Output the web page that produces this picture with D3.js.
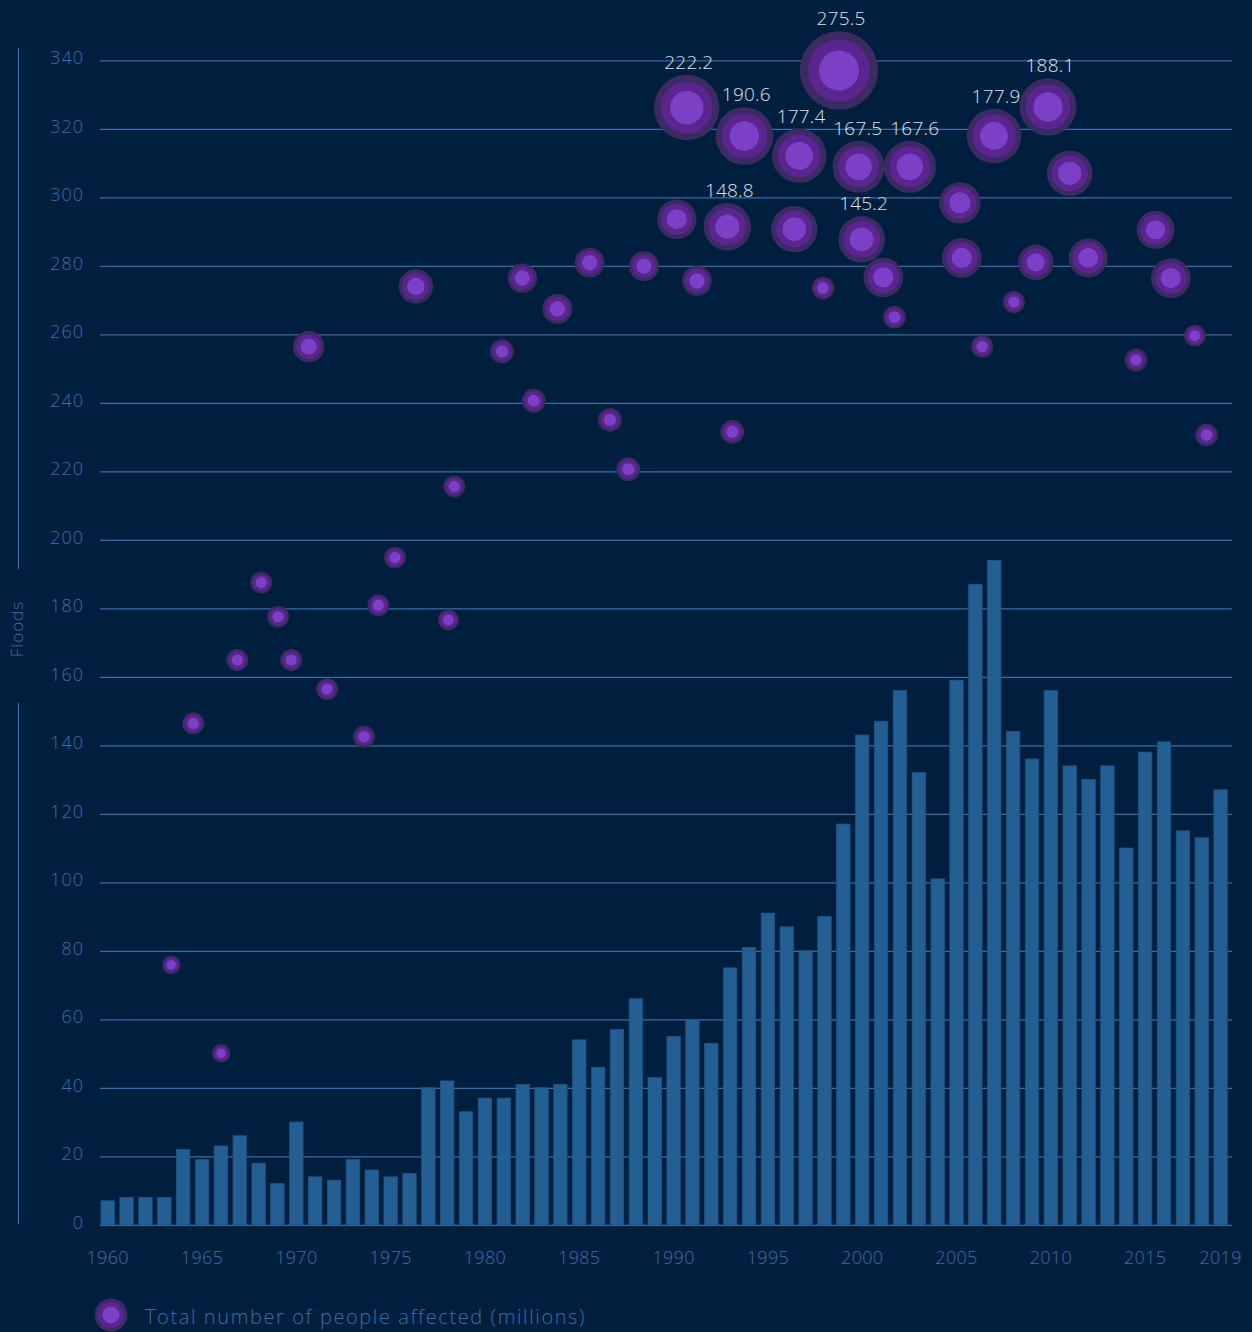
<!DOCTYPE html>
<html>
<head>
<meta charset="utf-8">
<script src="https://cdn.jsdelivr.net/npm/d3@7/dist/d3.min.js"></script>
<style>
  html, body { margin: 0; padding: 0; background: #001e3e; }
  svg { display: block; }
  text { font-family: "Open Sans", Lato, sans-serif; }
</style>
</head>
<body>
<svg id="chart" width="1252" height="1332"></svg>
<script>
// ---- data ----
const years = d3.range(1960, 2020);
const floods = [7, 8, 8, 8, 22, 19, 23, 26, 18, 12,
                30, 14, 13, 19, 16, 14, 15, 40, 42, 33,
                37, 37, 41, 40, 41, 54, 46, 57, 66, 43,
                55, 60, 53, 75, 81, 91, 87, 80, 90, 117,
                143, 147, 156, 132, 101, 159, 187, 194, 144, 136,
                156, 134, 130, 134, 110, 138, 141, 115, 113, 127];
const yTicks = d3.range(0, 341, 20);
const xTickLabels = [1960, 1965, 1970, 1975, 1980, 1985, 1990, 1995, 2000, 2005, 2010, 2015, 2019];

// bubbles: position along time axis, vertical level (floods axis units), people affected (millions)
const bubbleYear = [1963.37, 1964.54, 1966.01, 1966.87, 1968.14, 1969.03, 1969.73, 1970.66, 1971.63, 1973.59,
                    1974.35, 1975.23, 1976.34, 1978.06, 1978.37, 1980.90, 1981.98, 1982.58, 1983.84, 1985.55,
                    1986.63, 1987.60, 1988.43, 1990.17, 1990.70, 1991.24, 1992.85, 1993.11, 1993.75, 1996.40,
                    1996.66, 1997.92, 1998.77, 1999.81, 1999.97, 2001.12, 2001.71, 2002.53, 2005.18, 2005.28,
                    2006.36, 2006.99, 2008.04, 2009.20, 2009.85, 2011.00, 2011.98, 2014.51, 2015.55, 2016.36,
                    2017.64, 2018.25];
const bubbleLevel = [75.9, 146.4, 50.1, 164.9, 187.5, 177.5, 164.9, 256.4, 156.4, 142.5,
                     180.9, 194.8, 274.0, 176.6, 215.6, 255.0, 276.4, 240.6, 267.4, 280.9,
                     235.0, 220.6, 279.9, 293.6, 326.2, 275.6, 291.4, 231.5, 317.9, 290.7,
                     312.1, 273.5, 337.0, 308.9, 287.7, 276.6, 265.0, 308.9, 298.4, 282.3,
                     256.4, 317.9, 269.4, 281.0, 326.4, 307.0, 282.3, 252.5, 290.5, 276.4,
                     259.6, 230.6];
const bubbleValue = [30, 44, 30, 44, 44, 44, 44, 83, 44, 44,
                     44, 44, 95, 40, 44, 52, 75, 52, 77, 77,
                     52, 52, 77, 116, 222.2, 76, 148.8, 52, 190.6, 144,
                     177.4, 47, 275.5, 167.5, 145.2, 117, 47, 167.6, 124, 117,
                     45, 177.9, 45, 100, 188.1, 141, 114, 47, 110, 117,
                     43, 47];
const legendLabel = "Total number of people affected (millions)";
const axisTitle = "Floods";

// ---- drawing ----
const svg = d3.select("#chart");
svg.append("rect").attr("width", 1252).attr("height", 1332).attr("fill", "#001e3e");

const x = d3.scaleBand().domain(years).range([101, 1227.3]).paddingInner(0.29).paddingOuter(0);
const y = d3.scaleLinear().domain([0, 340]).range([1224.8, 60.3]);
const half = x.bandwidth() / 2;
const xb = d3.scaleLinear().domain([1960, 2019]).range([x(1960) + half, x(2019) + half]);
const r = d3.scaleLinear().domain([0, 275.5]).range([5.6, 39.2]);

const tickColor = "#3d6fa3";
const gridColor = "#386ea3";
const font = "'Open Sans', Lato, sans-serif";

// gridlines + y tick labels
const yAxis = d3.axisLeft(y).tickValues(yTicks).tickSize(-1132).tickPadding(16);
const gy = svg.append("g").attr("transform", "translate(100,0)").call(yAxis);
gy.select(".domain").remove();
gy.selectAll(".tick line").attr("stroke", gridColor).attr("stroke-width", 1.2);
gy.selectAll(".tick text").attr("fill", tickColor).attr("font-size", 18).attr("font-weight", 300)
  .attr("font-family", font).attr("letter-spacing", 1).attr("dy", "0.2em");

// left vertical line (broken around title)
svg.append("line").attr("x1", 18.5).attr("x2", 18.5).attr("y1", 48).attr("y2", 569)
  .attr("stroke", gridColor).attr("stroke-width", 1.2);
svg.append("line").attr("x1", 18.5).attr("x2", 18.5).attr("y1", 703).attr("y2", 1224)
  .attr("stroke", gridColor).attr("stroke-width", 1.2);
svg.append("text").attr("transform", "translate(23,629) rotate(-90)")
  .attr("text-anchor", "middle").attr("fill", tickColor).attr("font-size", 17).attr("font-weight", 300)
  .attr("letter-spacing", 1).text(axisTitle);

// bars
svg.append("g").selectAll("rect").data(years).join("rect")
  .attr("x", d => x(d)).attr("width", x.bandwidth())
  .attr("y", (d, i) => y(floods[i])).attr("height", (d, i) => y(0) - y(floods[i]))
  .attr("fill", "#235f92").attr("stroke", "#1f5687").attr("stroke-width", 0.8);

// x axis labels
const xAxis = d3.axisBottom(x).tickValues(xTickLabels).tickSize(0).tickPadding(26);
const gx = svg.append("g").attr("transform", `translate(0,${y(0)})`).call(xAxis);
gx.select(".domain").remove();
gx.selectAll(".tick text").attr("fill", tickColor).attr("font-size", 18).attr("font-weight", 300)
  .attr("font-family", font).attr("letter-spacing", 0.3);

// bubbles
const bubbles = bubbleYear.map((yr, i) => ({yr, lvl: bubbleLevel[i], v: bubbleValue[i]}));
function drawBubble(g, cx, cy, rad) {
  g.append("circle").attr("cx", cx).attr("cy", cy).attr("r", rad).attr("fill", "#3c2a63");
  g.append("circle").attr("cx", cx).attr("cy", cy).attr("r", rad * 0.79).attr("fill", "#5a258f");
  g.append("circle").attr("cx", cx).attr("cy", cy).attr("r", rad * 0.51).attr("fill", "#7c40c6");
}
const gb = svg.append("g");
bubbles.forEach(b => drawBubble(gb, xb(b.yr), y(b.lvl), r(b.v)));

// labels for the ten largest, nudged apart when two sit on the same row
const top10 = bubbles.slice().sort((a, b) => b.v - a.v).slice(0, 10)
  .map(d => ({...d, lx: xb(d.yr) + 2, ly: y(d.lvl) - r(d.v) - 6}))
  .sort((a, b) => a.lx - b.lx);
const minGap = 57;
for (let i = 0; i < top10.length; i++) {
  for (let j = i + 1; j < top10.length; j++) {
    const a = top10[i], b = top10[j];
    if (Math.abs(a.ly - b.ly) < 12 && b.lx - a.lx < minGap) {
      const push = (minGap - (b.lx - a.lx)) / 2;
      a.lx -= push; b.lx += push;
    }
  }
}
svg.append("g").selectAll("text").data(top10).join("text")
  .attr("x", d => d.lx).attr("y", d => d.ly)
  .attr("text-anchor", "middle").attr("fill", "#dde2ea").attr("font-size", 19).attr("font-weight", 300)
  .attr("letter-spacing", 0.2)
  .text(d => d3.format(".1f")(d.v));

// legend
const gl = svg.append("g");
drawBubble(gl, 111, 1315, 16.5);
gl.append("text").attr("x", 145).attr("y", 1324).attr("fill", tickColor)
  .attr("font-size", 20).attr("font-weight", 300).attr("letter-spacing", 1.6).text(legendLabel);
</script>
</body>
</html>
